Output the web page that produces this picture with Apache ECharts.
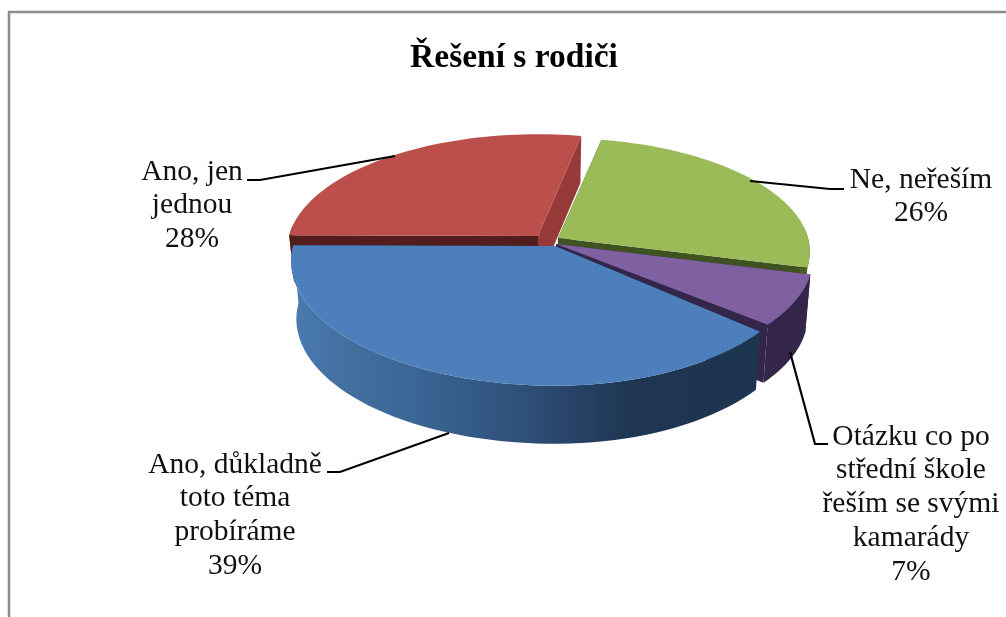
<!DOCTYPE html>
<html><head><meta charset="utf-8">
<style>html,body{margin:0;padding:0;background:#fff}#c{width:1006px;height:617px}</style>
<script src="https://cdn.jsdelivr.net/npm/echarts@6/dist/echarts.min.js"></script>
</head><body><div id="c"></div>
<script>
const titleText = 'Řešení s rodiči';
const categories = ['Ne, neřeším', 'Otázku co po\nstřední škole\nřeším se svými\nkamarády', 'Ano, důkladně\ntoto téma\nprobíráme', 'Ano, jen\njednou'];
const percents = [26, 7, 39, 28];
const colors = ['#9BBB59', '#7F60A0', '#4C7FBB', '#BC4F4C'];

const START_DEG = 11.2, PERSP = 0.12, WALL_SCALE = 0.98;
// layout of each slice (clockwise order as the categories)
const geom = [
  {cx:558,cy:238,rxL:250,rxR:250,ry:112,h:55,face:'#3F5320',faceEnd:'#3F5320',wall:'#4A5F26',faceH:34},
  {cx:556,cy:244,rxL:255,rxR:255,ry:116,h:58,face:'#33264A',faceEnd:'#33264A',wall:'#33264A',faceH:58},
  {cx:555,cy:246,rxL:262,rxR:247,ry:123,h:58,face:'#2A4A70',faceEnd:'#1E3550',wall:null,faceH:10},
  {cx:538,cy:236,rxL:249,rxR:249,ry:114,h:47,face:'#521D1C',faceEnd:'#963B39',wall:'#521D1C',faceH:47}
];
const textLayout = [
  {x:921,y:180,leader:[[750,181],[830,189],[844,189]]},
  {x:911,y:437,leader:[[790,352],[815,444],[828,444]]},
  {x:235,y:465,leader:[[449,433],[340,472],[327,472]]},
  {x:192,y:172,leader:[[395,156],[260,180],[247,180]]}
];
const drawOrder = [3, 0, 1, 2];
const LINE_H = 33.7;

function project(g, deg) {
  const t = deg * Math.PI / 180, X = Math.sin(t), Y = -Math.cos(t);
  const s = 1 / (1 - PERSP * Y);
  return [g.cx + (X < 0 ? g.rxL : g.rxR) * X * s, g.cy + g.ry * Y * s];
}
function lower(g, p, h) { return [g.cx + (p[0] - g.cx) * WALL_SCALE, p[1] + h]; }

const total = percents.reduce((a, b) => a + b, 0);
function sliceRange(i) {
  let a = START_DEG;
  for (let k = 0; k < i; k++) a += percents[k] / total * 360;
  return [a, a + percents[i] / total * 360];
}
const blueWall = new echarts.graphic.LinearGradient(0, 0, 1, 0, [
  {offset:0, color:'#4A7AB0'}, {offset:0.12, color:'#41709F'}, {offset:0.3, color:'#396291'},
  {offset:0.5, color:'#2E4F78'}, {offset:0.72, color:'#1E3651'}, {offset:1, color:'#1D3550'}
]);

function renderItem(params, api) {
  const idx = api.value(0), g = geom[idx], c = [];
  const [a0, a1] = sliceRange(idx);
  const arc = [];
  for (let i = 0; i <= 60; i++) arc.push(project(g, a0 + (a1 - a0) * i / 60));
  const apex = [g.cx, g.cy];
  const poly = (points, fill) => c.push({type:'polygon', silent:true, shape:{points}, style:{fill}});
  // radial faces
  const fh = g.faceH;
  const r0 = arc[0], r1 = arc[arc.length - 1];
  const facePts = r => [apex, r, lower(g, r, fh), [apex[0], apex[1] + fh]];
  poly(facePts(r0), g.face);
  poly(facePts(r1), g.faceEnd);
  // outer wall
  const wallFill = g.wall || blueWall;
  const frontArc = arc.filter((p, i) => Math.cos((a0 + (a1 - a0) * i / 60) * Math.PI / 180) < 0.1);
  if (frontArc.length > 1) {
    poly(frontArc.concat(frontArc.map(p => lower(g, p, g.h)).reverse()), wallFill);
  }
  // top
  poly([apex].concat(arc), colors[idx]);
  // leader and label
  const t = textLayout[idx];
  c.push({type:'polyline', silent:true, z2:20, shape:{points:t.leader}, style:{stroke:'#000', lineWidth:2.2, fill:null}});
  const lines = (categories[idx] + '\n' + percents[idx] + '%').split('\n');
  lines.forEach((ln, i) => c.push({type:'text', silent:true, z2:21,
    style:{x:t.x, y:t.y + i * LINE_H, text:ln, fill:'#111', align:'center', verticalAlign:'middle',
      font:'29.5px "Liberation Serif"'}}));
  return {type:'group', children:c};
}

const chart = echarts.init(document.getElementById('c'), null, {renderer:'canvas'});
chart.setOption({
  animation:false,
  backgroundColor:'#fff',
  title:{text:titleText, left:509, top:36, textAlign:'center',
    textStyle:{fontFamily:'Liberation Serif', fontWeight:'bold', fontSize:33.5, color:'#000'}},
  graphic:[
    {type:'polyline', silent:true, shape:{points:[[9,617],[9,12],[1006,12]]}, style:{stroke:'#8C8C8C', lineWidth:2.5, fill:null}}
  ],
  series:[{
    type:'custom', coordinateSystem:'none', renderItem,
    data:drawOrder.map(i => [i, percents[i], categories[i]])
  }]
});
</script></body></html>
